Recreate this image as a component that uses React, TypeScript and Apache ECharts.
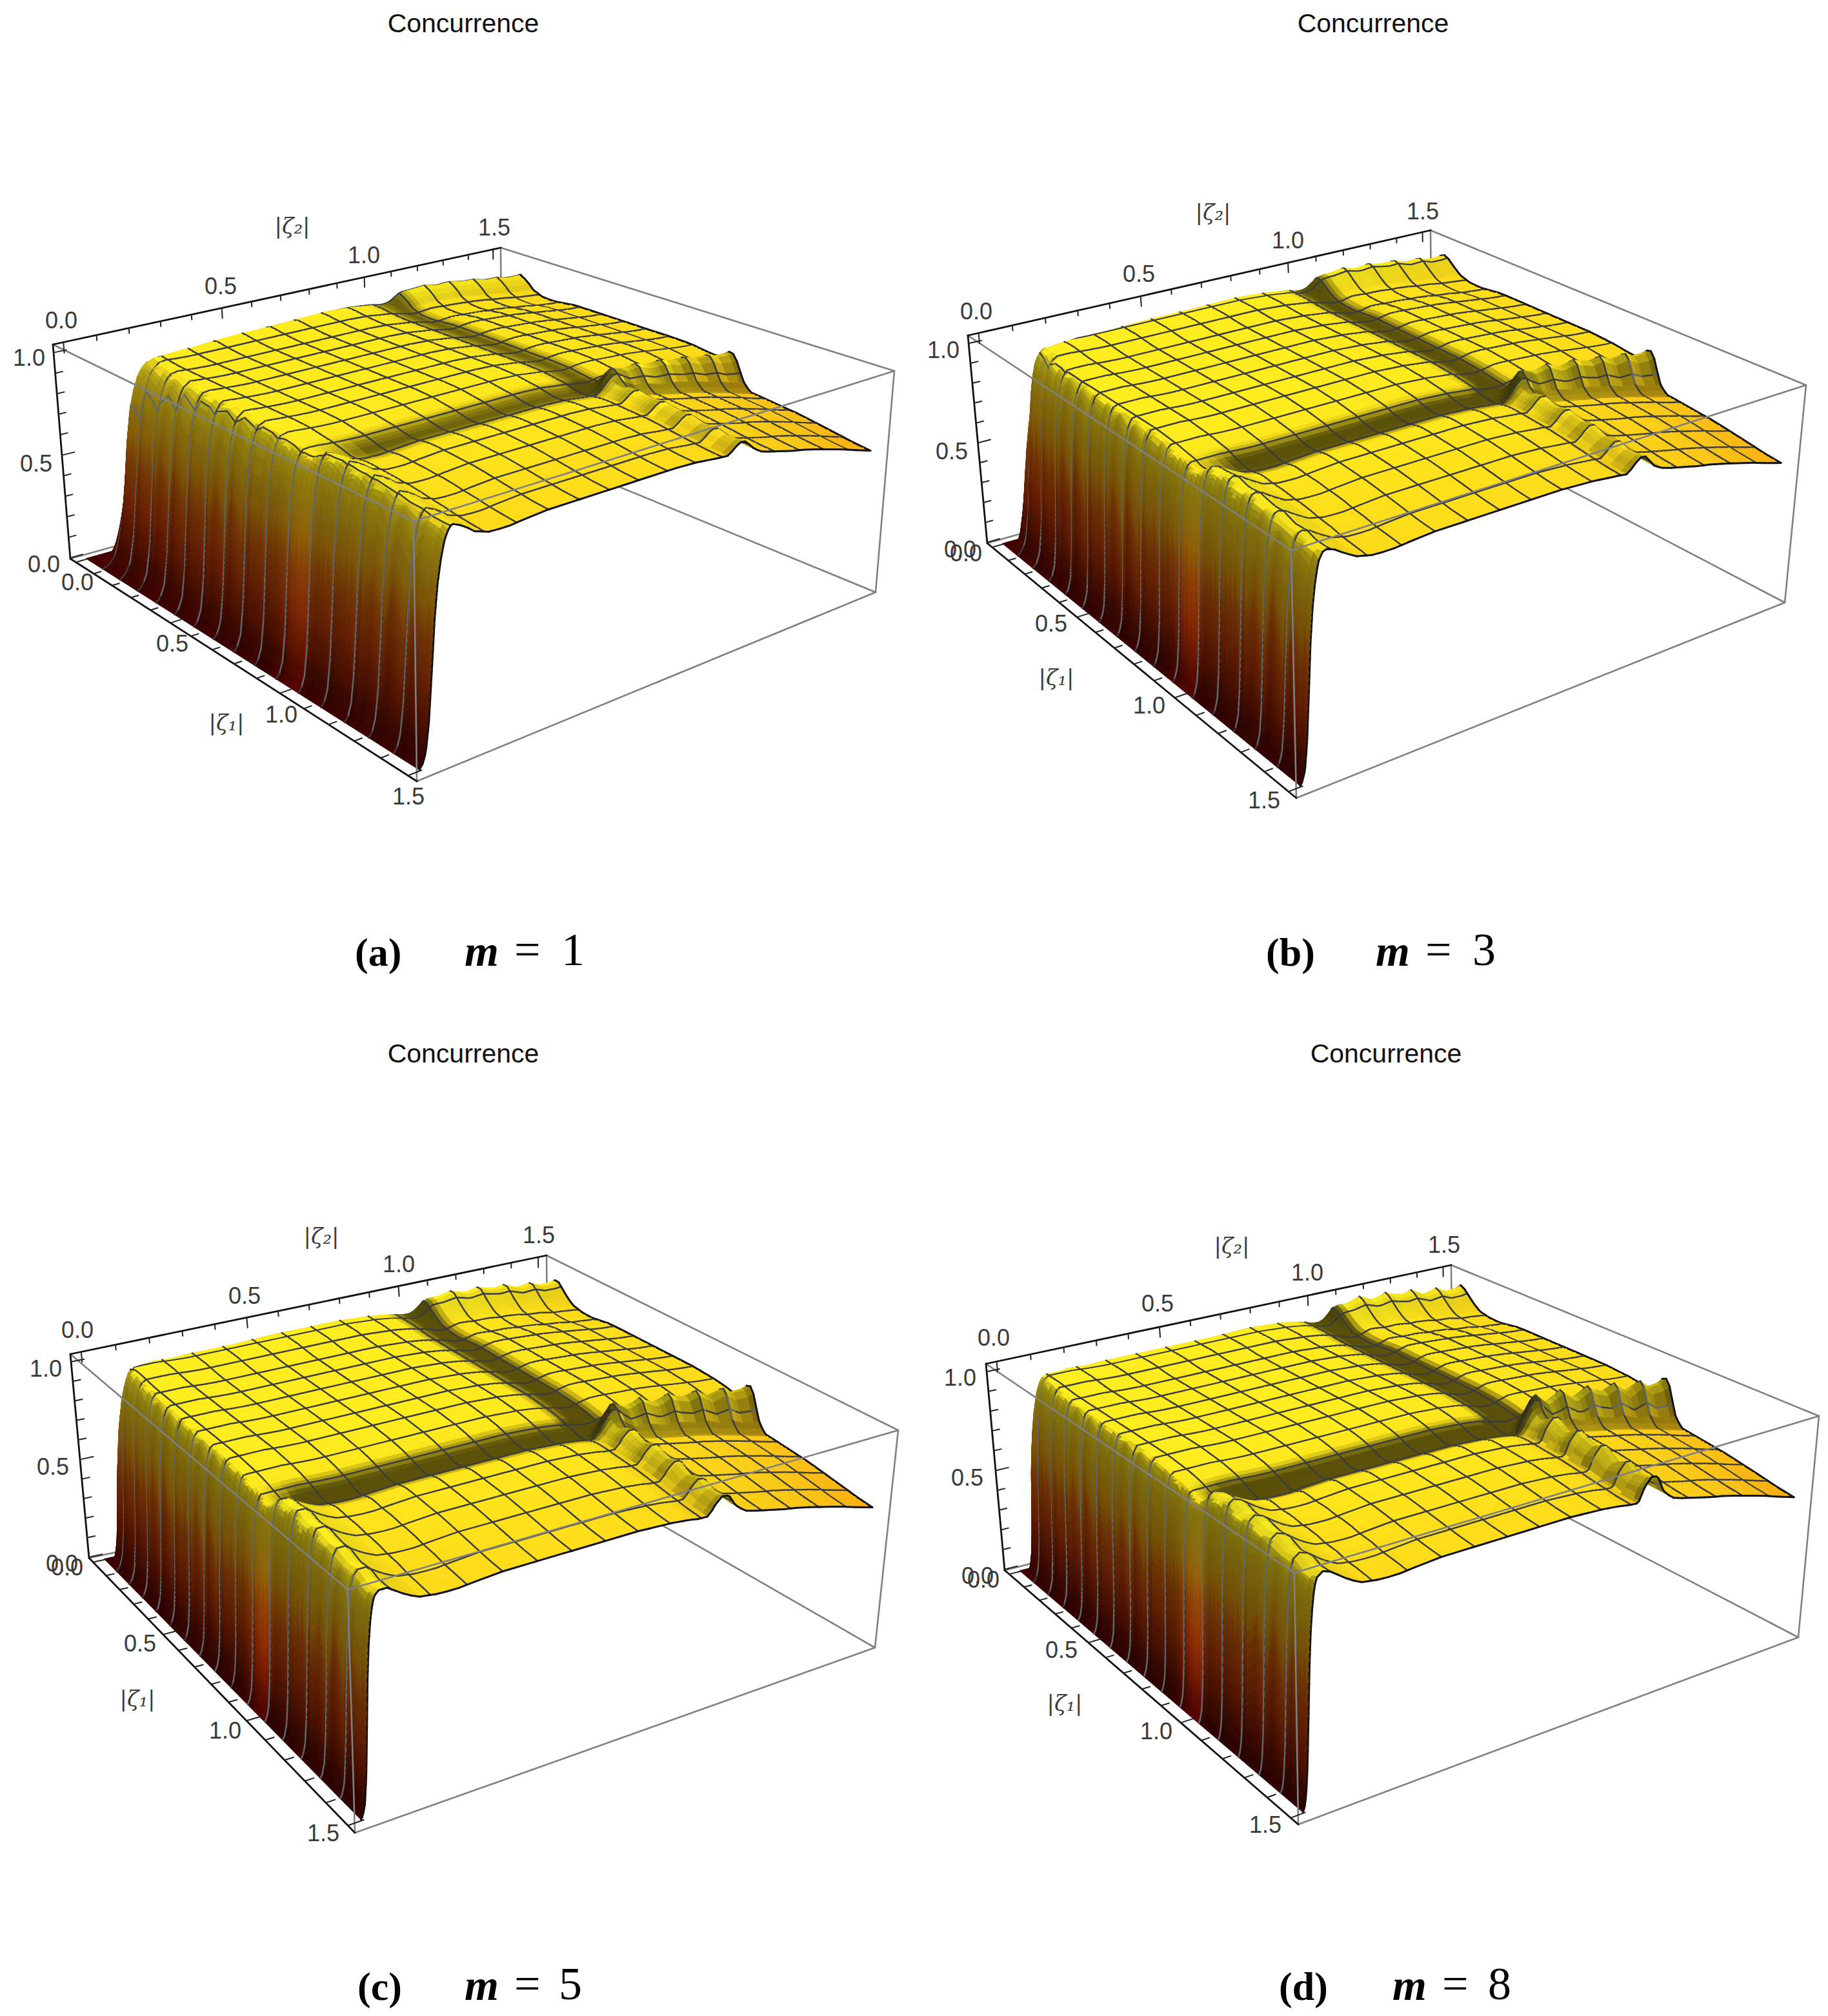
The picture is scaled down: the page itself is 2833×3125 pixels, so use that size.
import React, { useEffect, useRef } from "react";
import * as echarts from "echarts";

// ---------- values ----------
const panelLetters = ["(a)", "(b)", "(c)", "(d)"];
const mValues = ["1", "3", "5", "8"];
const chartTitle = "Concurrence";
const tickLabels = ["0.0", "0.5", "1.0", "1.5"];
const zTickLabels = ["0.0", "0.5", "1.0"];

// sample positions shared by the profiles of |zeta|
const zetaGrid = [
  0, 0.02, 0.04, 0.06, 0.08, 0.1, 0.13, 0.16, 0.2, 0.25,
  0.3, 0.35, 0.4, 0.45, 0.5, 0.55, 0.6, 0.65, 0.7, 0.75, 0.8, 0.85,
  0.9, 0.93, 0.96, 0.98, 1, 1.02, 1.04, 1.07, 1.1, 1.15, 1.2, 1.25, 1.3, 1.35, 1.4, 1.45, 1.5,
];
// plateau height along either |zeta| axis
const profileA = [
  1, 1, 1, 1, 1, 1, 1, 0.995, 0.99, 0.985,
  0.985, 0.985, 0.985, 0.985, 0.985, 0.985, 0.985, 0.985, 0.985, 0.985, 0.985, 0.98,
  0.97, 0.965, 0.955, 0.95, 0.945, 0.945, 0.95, 0.955, 0.955, 0.95, 0.945, 0.94, 0.93, 0.92, 0.91, 0.9, 0.895,
];
const profileB = [
  1, 1, 1, 1, 1, 1, 1, 1, 0.995, 0.99,
  0.99, 0.99, 0.99, 0.99, 0.99, 0.99, 0.99, 0.99, 0.99, 0.99, 0.985, 0.98,
  0.97, 0.965, 0.95, 0.945, 0.94, 0.94, 0.945, 0.955, 0.955, 0.95, 0.945, 0.94, 0.93, 0.92, 0.91, 0.9, 0.895,
];
const profileC = [
  1, 1, 1, 1, 1, 1, 1, 1, 0.995, 0.99,
  0.99, 0.99, 0.99, 0.99, 0.99, 0.99, 0.99, 0.99, 0.99, 0.99, 0.985, 0.98,
  0.97, 0.96, 0.95, 0.94, 0.935, 0.935, 0.945, 0.955, 0.955, 0.95, 0.945, 0.94, 0.93, 0.92, 0.91, 0.9, 0.895,
];
const profileD = [
  1, 1, 1, 1, 1, 1, 1, 1, 0.995, 0.99,
  0.99, 0.99, 0.99, 0.99, 0.99, 0.99, 0.99, 0.99, 0.99, 0.99, 0.985, 0.98,
  0.97, 0.96, 0.945, 0.935, 0.93, 0.93, 0.94, 0.955, 0.955, 0.95, 0.945, 0.94, 0.93, 0.92, 0.91, 0.9, 0.895,
];
// extra height of the ridges beyond the crossing
const ridgeA = [
  0, 0, 0, 0.02, 0.04, 0.05, 0.03, 0, -0.015, -0.015,
  -0.008, 0, 0, 0, 0, 0, 0, 0, 0, 0, 0, 0,
  0, 0, 0.01, 0.06, 0.09, 0.09, 0.04, 0, 0, 0, 0, 0, 0, 0, 0, 0, 0,
];
const ridgeB = [
  0, 0, 0.02, 0.05, 0.06, 0.05, 0.02, -0.005, -0.015, -0.015,
  -0.008, 0, 0, 0, 0, 0, 0, 0, 0, 0, 0, 0,
  0, 0, 0.01, 0.07, 0.11, 0.11, 0.04, 0, 0, 0, 0, 0, 0, 0, 0, 0, 0,
];
const ridgeC = [
  0, 0.01, 0.04, 0.06, 0.06, 0.04, 0.01, -0.01, -0.015, -0.015,
  -0.008, 0, 0, 0, 0, 0, 0, 0, 0, 0, 0, 0,
  0, 0, 0.01, 0.08, 0.12, 0.12, 0.05, 0, 0, 0, 0, 0, 0, 0, 0, 0, 0,
];
const ridgeD = [
  0, 0.02, 0.05, 0.07, 0.06, 0.04, 0.01, -0.01, -0.015, -0.015,
  -0.008, 0, 0, 0, 0, 0, 0, 0, 0, 0, 0, 0,
  0, 0, 0.01, 0.09, 0.13, 0.13, 0.05, 0, 0, 0, 0, 0, 0, 0, 0, 0, 0,
];
// beyond-the-crossing weight
const farSide = [
  0, 0, 0, 0, 0, 0, 0, 0, 0, 0,
  0, 0, 0, 0, 0, 0, 0, 0, 0, 0, 0, 0,
  0, 0, 0, 0.1, 0.4, 0.75, 0.95, 1, 1, 1, 1, 1, 1, 1, 1, 1, 1,
];
// how far down the lower corner has fallen
const farSlope = [
  0, 0, 0, 0, 0, 0, 0, 0, 0, 0,
  0, 0, 0, 0, 0, 0, 0, 0, 0, 0, 0, 0,
  0, 0, 0, 0, 0, 0.03, 0.08, 0.15, 0.25, 0.35, 0.45, 0.52, 0.6, 0.68, 0.77, 0.88, 1,
];
// rise of the wall as a share of its width
const wallPosition = [0, 0.1, 0.2, 0.3, 0.4, 0.5, 0.6, 0.7, 0.8, 0.9, 1];
const wallShape = [0, 0.02, 0.07, 0.2, 0.42, 0.65, 0.8, 0.89, 0.95, 0.985, 1];
// width of the wall along the other axis
const widthPosition = [0, 0.25, 0.5, 0.75, 1, 1.25, 1.5];
const wallWidthA = [0.2, 0.14, 0.11, 0.1, 0.09, 0.09, 0.085];
const wallWidthB = [0.14, 0.09, 0.075, 0.07, 0.065, 0.06, 0.06];
const wallWidthC = [0.1, 0.07, 0.06, 0.055, 0.05, 0.05, 0.045];
const wallWidthD = [0.09, 0.06, 0.055, 0.05, 0.045, 0.04, 0.04];
const stepDrops = [0.11, 0.11, 0.11, 0.11];
const cornerDrops = [0.03, 0.03, 0.03, 0.04];
const toothDepths = [0.08, 0.12, 0.15, 0.2];
const scallopDepths = [0.2, 0.3, 0.3, 0.25];
const frontRidgeScales = [0.6, 0.6, 0.7, 0.8];

// ---------- layout ----------
type P = [number, number];
interface Box { t00: P; t10: P; t11: P; t01: P; b00: P; b10: P; b11: P; b01: P; }
const boxes: Box[] = [
  { t00: [82, 534], t01: [776, 384], t11: [1386, 575], t10: [641, 808], b00: [109, 866], b01: [778, 680], b11: [1357, 918], b10: [646, 1211] },
  { t00: [1500, 520], t01: [2217, 357], t11: [2799, 597], t10: [2001, 853], b00: [1530, 842], b01: [2220, 648], b11: [2766, 934], b10: [2009, 1237] },
  { t00: [109, 2099], t01: [847, 1946], t11: [1392, 2217], t10: [539, 2464], b00: [138, 2415], b01: [850, 2263], b11: [1356, 2554], b10: [550, 2841] },
  { t00: [1528, 2114], t01: [2249, 1961], t11: [2819, 2195], t10: [2006, 2438], b00: [1557, 2434], b01: [2252, 2260], b11: [2787, 2538], b10: [2012, 2828] },
];
const titlePos: P[] = [[718, 36], [2128, 36], [718, 1633], [2148, 1633]];
const zetaOnePos: P[][] = [
  [[120, 902], [267, 997], [436, 1107], [633, 1234]],
  [[1497, 857], [1629, 966], [1781, 1093], [1959, 1240]],
  [[104, 2429], [217, 2547], [349, 2682], [501, 2841]],
  [[1524, 2448], [1645, 2557], [1792, 2683], [1961, 2828]],
];
const zetaTwoPos: P[][] = [
  [[95, 496], [342, 443], [564, 395], [766, 352]],
  [[1513, 482], [1765, 424], [1996, 372], [2205, 327]],
  [[120, 2061], [379, 2008], [618, 1959], [835, 1914]],
  [[1540, 2073], [1794, 2020], [2026, 1972], [2238, 1929]],
];
const zPos: P[][] = [
  [[68, 874], [56, 718], [45, 554]],
  [[1488, 851], [1475, 699], [1462, 542]],
  [[96, 2423], [82, 2273], [71, 2121]],
  [[1515, 2442], [1499, 2290], [1488, 2135]],
];
const axisOnePos: P[] = [[351, 1120], [1637, 1050], [213, 2633], [1650, 2640]];
const axisTwoPos: P[] = [[453, 350], [1880, 329], [498, 1916], [1909, 1931]];
const captionX = [[550, 720, 797, 870], [1962, 2132, 2209, 2282], [554, 720, 797, 866], [1982, 2158, 2235, 2306]];
const captionY = [1496, 1496, 3099, 3099];

const panels = [0, 1, 2, 3].map((i) => ({
  box: boxes[i],
  a: [profileA, profileB, profileC, profileD][i],
  r: [ridgeA, ridgeB, ridgeC, ridgeD][i],
  w: [wallWidthA, wallWidthB, wallWidthC, wallWidthD][i],
  step: stepDrops[i],
  drop: cornerDrops[i],
  tooth: toothDepths[i],
  scallop: scallopDepths[i],
  front: frontRidgeScales[i],
}));
type Panel = typeof panels[number];

// ---------- helpers ----------
const interp = (xs: number[], ys: number[], x: number) => {
  if (x <= xs[0]) return ys[0];
  const n = xs.length - 1;
  if (x >= xs[n]) return ys[n];
  let i = 0;
  while (xs[i + 1] < x) i++;
  return ys[i] + ((ys[i + 1] - ys[i]) * (x - xs[i])) / (xs[i + 1] - xs[i]);
};
const MESH = 1.5 / 16;
const frac = (x: number) => x - Math.floor(x);
const cusp = (x: number) => Math.abs(2 * frac(x / MESH) - 1);
const clamp01 = (x: number) => Math.max(0, Math.min(1, x));

function homography(a: P, b: P, c: P, d: P) {
  const dx1 = b[0] - c[0], dx2 = d[0] - c[0], sx = a[0] - b[0] + c[0] - d[0];
  const dy1 = b[1] - c[1], dy2 = d[1] - c[1], sy = a[1] - b[1] + c[1] - d[1];
  const den = dx1 * dy2 - dx2 * dy1;
  const g = (sx * dy2 - dx2 * sy) / den, h = (dx1 * sy - sx * dy1) / den;
  const A = b[0] - a[0] + g * b[0], B = d[0] - a[0] + h * d[0], C = a[0];
  const D = b[1] - a[1] + g * b[1], E = d[1] - a[1] + h * d[1], F = a[1];
  return (u: number, v: number): P => {
    const q = g * u + h * v + 1;
    return [(A * u + B * v + C) / q, (D * u + E * v + F) / q];
  };
}
function projector(box: Box) {
  const top = homography(box.t00, box.t10, box.t11, box.t01);
  const bot = homography(box.b00, box.b10, box.b11, box.b01);
  return (u: number, v: number, w: number): P => {
    const t = top(u, v), b = bot(u, v);
    return [b[0] + (t[0] - b[0]) * w, b[1] + (t[1] - b[1]) * w];
  };
}
const toU = (z: number) => 0.02 + (0.96 * z) / 1.5;
const toW = (z: number) => 0.004 + 0.958 * z;

const wallAlong = (p: Panel, a: number, b: number) =>
  interp(wallPosition, wallShape, b / (interp(widthPosition, p.w, a) * (1 + p.scallop * (cusp(a) - 0.5))));
const wallAcross = (p: Panel, a: number, b: number) =>
  interp(wallPosition, wallShape, a / interp(widthPosition, p.w, b));

function surfaceHeight(p: Panel, a: number, b: number) {
  const a1 = interp(zetaGrid, p.a, a), a2 = interp(zetaGrid, p.a, b);
  const s1 = interp(zetaGrid, farSide, a), s2 = interp(zetaGrid, farSide, b);
  const d1 = interp(zetaGrid, farSlope, a), d2 = interp(zetaGrid, farSlope, b);
  const r1 = interp(zetaGrid, p.r, a), r2 = interp(zetaGrid, p.r, b);
  const t1 = 1 - p.tooth + 2 * p.tooth * cusp(a), t2 = 1 - p.tooth + 2 * p.tooth * cusp(b);
  const frontPart = b > 0.5 ? p.front : 1;
  const top = a1 * a2 - p.step * s1 * d2 - p.drop * d1 * d2 + r1 * s2 * t2 + r2 * s1 * t1 * frontPart;
  return wallAlong(p, a, b) * wallAcross(p, a, b) * top;
}

const colorStops: [number, number[]][] = [
  [0, [70, 0, 0]], [0.15, [140, 28, 0]], [0.3, [200, 60, 6]], [0.5, [235, 110, 10]],
  [0.62, [255, 168, 15]], [0.75, [255, 200, 24]], [0.9, [255, 223, 26]], [1, [255, 240, 32]],
];
function heightColor(z: number) {
  let i = 0;
  while (i < colorStops.length - 2 && colorStops[i + 1][0] < z) i++;
  const [z0, c0] = colorStops[i], [z1, c1] = colorStops[i + 1];
  const t = clamp01((z - z0) / (z1 - z0));
  return [0, 1, 2].map((k) => c0[k] + (c1[k] - c0[k]) * t);
}

// sampling used for drawing only; the heights come from the profiles above
function sampling(midStep: number) {
  const s = [0, 0.005, 0.01, 0.015, 0.02, 0.03, 0.04, 0.05, 0.06, 0.07, 0.08, 0.1, 0.12, 0.14, 0.16, 0.18, 0.2, 0.23, 0.26];
  for (let x = 0.3; x < 0.85; x += midStep) s.push(x);
  for (let x = 0.85; x < 1.2; x += 0.015) s.push(x);
  for (let x = 1.2; x < 1.5; x += 0.04) s.push(x);
  const out: { v: number; mesh: boolean }[] = [];
  for (let k = 1; k <= 15; k++) out.push({ v: k * MESH, mesh: true });
  s.concat([1.5]).forEach((v) => {
    if (!out.some((o) => Math.abs(o.v - v) < 0.006)) out.push({ v, mesh: false });
  });
  return out.sort((x, y) => x.v - y.v);
}

interface Cell { pts: P[]; fill: string; lines: { a: P; b: P; color: string; width: number }[]; }
function buildCells() {
  const gridA = sampling(0.04);
  const gridB = sampling(0.08);
  const cells: Cell[] = [];
  panels.forEach((p) => {
    const proj = projector(p.box);
    const at = (a: number, b: number) => proj(toU(a), toU(b), toW(surfaceHeight(p, a, b)));
    const ao = (x: number) =>
      x < 0.75 || x > 1.25 ? 0 : Math.max(0, (interp(zetaGrid, p.a, x - 0.14) + interp(zetaGrid, p.a, x + 0.14)) / 2 - interp(zetaGrid, p.a, x));
    const paint = (a0: number, a1: number, b0: number, b1: number) => {
      const z00 = surfaceHeight(p, a0, b0), z10 = surfaceHeight(p, a1, b0);
      const z11 = surfaceHeight(p, a1, b1), z01 = surfaceHeight(p, a0, b1);
      const z = (z00 + z10 + z11 + z01) / 4;
      const gx = (0.6 * (z10 + z11 - z00 - z01)) / 2 / (a1 - a0);
      const gy = (0.6 * (z01 + z11 - z00 - z10)) / 2 / (b1 - b0);
      const nz = 1 / Math.sqrt(1 + gx * gx + gy * gy);
      const am = (a0 + a1) / 2, bm = (b0 + b1) / 2;
      let light = 0.42 + 0.58 * nz;
      const wall = wallAlong(p, am, bm) * wallAcross(p, am, bm);
      const s1 = interp(zetaGrid, farSide, am), s2 = interp(zetaGrid, farSide, bm);
      const fade = clamp01((bm / interp(widthPosition, p.w, am) - 1.2) / 1.5);
      const band = ao(am) * (1 - 0.85 * s2) + ao(bm) * (1 - 0.85 * s1);
      const darkBand = ao(am) * (1 - 0.85 * s2) * fade + ao(bm) * (1 - 0.85 * s1);
      const flat = clamp01((wall - 0.9) / 0.1);
      light *= 1 - Math.min(0.64, 30 * darkBand) * flat;
      light *= 1 + 25 * band * (1 - wall);
      light *= 1 + 0.3 * (1 - wall) * (frac(am / MESH) - 0.5);
      if (s2 > 0.5 && am > 0.95 && am < 1.05) light *= 1 + 0.5 * (0.5 - frac(bm / MESH));
      if (s2 > 0.5 && am >= 1.05 && am < 1.09) light *= 0.72;
      if (s1 > 0.5 && bm > 0.95 && bm < 1.05) light *= 1 + 0.4 * (0.5 - frac(am / MESH));
      if (s1 > 0.5 && bm >= 1.04 && bm < 1.07) light *= 0.8;
      const rgb = heightColor(z).map((c) => Math.max(0, Math.min(255, Math.round(c * light))));
      return { fill: `rgb(${rgb[0]},${rgb[1]},${rgb[2]})`, mesh: nz < 0.45 ? "#5f666c" : "#3c3c3c" };
    };
    for (let i = 0; i < gridA.length - 1; i++) {
      for (let j = gridB.length - 2; j >= 0; j--) {
        const a0 = gridA[i].v, a1 = gridA[i + 1].v, b0 = gridB[j].v, b1 = gridB[j + 1].v;
        const rise = Math.max(
          Math.abs(surfaceHeight(p, a0, b1) - surfaceHeight(p, a0, b0)),
          Math.abs(surfaceHeight(p, a1, b1) - surfaceHeight(p, a1, b0)),
        );
        const parts = Math.min(10, Math.max(1, Math.ceil(rise / 0.03)));
        for (let k = parts - 1; k >= 0; k--) {
          const c0 = b0 + ((b1 - b0) * k) / parts, c1 = b0 + ((b1 - b0) * (k + 1)) / parts;
          const look = paint(a0, a1, c0, c1);
          const p00 = at(a0, c0), p10 = at(a1, c0), p11 = at(a1, c1), p01 = at(a0, c1);
          const lines: Cell["lines"] = [];
          if (gridA[i].mesh) lines.push({ a: p00, b: p01, color: look.mesh, width: 2.5 });
          if (k === parts - 1 && gridB[j + 1].mesh) lines.push({ a: p01, b: p11, color: look.mesh, width: 2.5 });
          if (i === gridA.length - 2) lines.push({ a: p10, b: p11, color: "#111", width: 3 });
          if (k === parts - 1 && j === gridB.length - 2) lines.push({ a: p01, b: p11, color: "#111", width: 3 });
          cells.push({ pts: [p00, p10, p11, p01], fill: look.fill, lines });
        }
      }
    }
  });
  return cells;
}

const lineStyles = [
  { stroke: "#808080", lineWidth: 2.6 },
  { stroke: "#111111", lineWidth: 2.8 },
  { stroke: "#222222", lineWidth: 2 },
];
function buildLines() {
  const back: number[][] = [];
  const front: number[][] = [];
  const seg = (list: number[][], a: P, b: P, s: number) => list.push([a[0], a[1], b[0], b[1], s]);
  panels.forEach((p) => {
    const b = p.box;
    seg(back, b.t01, b.b01, 0);
    seg(back, b.b01, b.b11, 0);
    seg(back, b.b00, b.b01, 0);
    seg(back, b.t01, b.t11, 0);
    seg(front, b.t00, b.t10, 0);
    seg(front, b.t10, b.t11, 0);
    seg(front, b.t10, b.b10, 0);
    seg(front, b.b10, b.b11, 0);
    seg(front, b.t11, b.b11, 0);
    seg(front, b.t00, b.t01, 1);
    seg(front, b.t00, b.b00, 1);
    seg(front, b.b00, b.b10, 1);
    const proj = projector(b);
    for (let k = 0; k <= 15; k++) {
      const major = k % 5 === 0;
      const z = k / 10;
      const u = toU(z);
      seg(front, proj(u, 0, 0), proj(u, major ? 0.024 : 0.014, 0), 2);
      seg(front, proj(0, u, 1), proj(0, u, major ? 0.95 : 0.975), 2);
      if (k <= 10) {
        const w = toW(z);
        seg(front, proj(0, 0, w), proj(0, major ? 0.024 : 0.014, w), 2);
      }
    }
  });
  return { back, front };
}

const lineSeries = (data: number[][]) => ({
  type: "custom" as const,
  coordinateSystem: "cartesian2d",
  silent: true,
  clip: false,
  progressive: 0,
  encode: { x: 0, y: 1 },
  data,
  renderItem: (_: unknown, api: any) => {
    const a = api.coord([api.value(0), api.value(1)]);
    const b = api.coord([api.value(2), api.value(3)]);
    const st = lineStyles[api.value(4)];
    return { type: "line", shape: { x1: a[0], y1: a[1], x2: b[0], y2: b[1] }, style: { stroke: st.stroke, lineWidth: st.lineWidth, lineCap: "round" } };
  },
});

function buildOption() {
  const cells = buildCells();
  const { back, front } = buildLines();
  const labelFont = "Liberation Sans";
  const txt = (text: string, pos: P, size: number, family: string, extra: object = {}) => ({
    type: "text", x: pos[0], y: pos[1], silent: true,
    style: { text, fontSize: size, fontFamily: family, fill: "#3a3a3a", align: "center", verticalAlign: "middle", ...extra },
  });
  const graphics: any[] = [];
  panels.forEach((_, i) => {
    graphics.push(txt(chartTitle, titlePos[i], 41, labelFont, { fill: "#111" }));
    tickLabels.forEach((t, k) => {
      graphics.push(txt(t, zetaOnePos[i][k], 36, labelFont));
      graphics.push(txt(t, zetaTwoPos[i][k], 36, labelFont));
    });
    zTickLabels.forEach((t, k) => graphics.push(txt(t, zPos[i][k], 36, labelFont)));
    graphics.push(txt("|ζ₁|", axisOnePos[i], 34, "DejaVu Serif", { fontStyle: "italic" }));
    graphics.push(txt("|ζ₂|", axisTwoPos[i], 34, "DejaVu Serif", { fontStyle: "italic" }));
    const cap = { fill: "#000", align: "left" };
    const y = captionY[i];
    const capAt = (x: number, size: number): P => [x, y - 0.33 * size];
    graphics.push(txt(panelLetters[i], capAt(captionX[i][0], 62), 62, "Liberation Serif", { ...cap, fontWeight: "bold" }));
    graphics.push(txt("m", capAt(captionX[i][1], 68), 68, "Liberation Serif", { ...cap, fontWeight: "bold", fontStyle: "italic" }));
    graphics.push(txt("=", capAt(captionX[i][2], 72), 72, "Liberation Serif", cap));
    graphics.push(txt(mValues[i], capAt(captionX[i][3], 72), 72, "Liberation Serif", cap));
  });
  return {
    animation: false,
    backgroundColor: "#ffffff",
    grid: { left: 0, right: 0, top: 0, bottom: 0 },
    xAxis: { type: "value", min: 0, max: 2833, show: false },
    yAxis: { type: "value", min: 0, max: 3125, inverse: true, show: false },
    tooltip: { show: false },
    graphic: graphics,
    series: [
      lineSeries(back),
      {
        type: "custom",
        coordinateSystem: "cartesian2d",
        silent: true,
        clip: false,
        progressive: 0,
        encode: { x: 0, y: 1 },
        data: cells.map((c, id) => [c.pts[0][0], c.pts[0][1], id]),
        renderItem: (_: unknown, api: any) => {
          const c = cells[api.value(2)];
          const poly = {
            type: "polygon",
            shape: { points: c.pts.map((q) => api.coord(q)) },
            style: { fill: c.fill, stroke: c.fill, lineWidth: 1 },
          };
          if (!c.lines.length) return poly;
          return {
            type: "group",
            children: [
              poly,
              ...c.lines.map((l) => {
                const a = api.coord(l.a), b = api.coord(l.b);
                return { type: "line", shape: { x1: a[0], y1: a[1], x2: b[0], y2: b[1] }, style: { stroke: l.color, lineWidth: l.width, lineCap: "round" } };
              }),
            ],
          };
        },
      },
      lineSeries(front),
    ],
  };
}

export default function App() {
  const ref = useRef<HTMLDivElement>(null);
  useEffect(() => {
    document.body.style.margin = "0";
    const chart = echarts.init(ref.current!, undefined, { renderer: "svg" });
    chart.setOption(buildOption() as any);
    return () => chart.dispose();
  }, []);
  return <div ref={ref} style={{ width: 2833, height: 3125 }} />;
}
